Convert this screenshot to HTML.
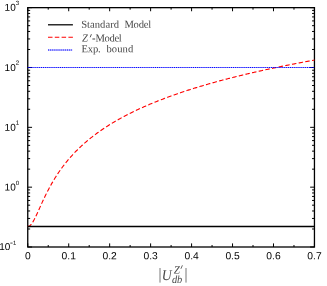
<!DOCTYPE html><html><head><meta charset="utf-8"><title>plot</title><style>html,body{margin:0;padding:0;background:#fff;}svg{display:block;will-change:transform}text{font-family:"Liberation Sans",sans-serif;text-rendering:geometricPrecision;}.s{font-family:"Liberation Serif",serif;}.i{font-style:italic}</style></head><body>
<svg width="327" height="286" viewBox="0 0 327 286">
<rect width="327" height="286" fill="#fff"/>
<rect x="27.75" y="7.65" width="286.70" height="239.35" fill="none" stroke="#000" stroke-width="1.3"/>
<path d="M27.75,247.00h4.3 M314.45,247.00h-4.3 M27.75,228.99h2.4 M314.45,228.99h-2.4 M27.75,218.45h2.4 M314.45,218.45h-2.4 M27.75,210.97h2.4 M314.45,210.97h-2.4 M27.75,205.18h2.4 M314.45,205.18h-2.4 M27.75,200.44h2.4 M314.45,200.44h-2.4 M27.75,196.43h2.4 M314.45,196.43h-2.4 M27.75,192.96h2.4 M314.45,192.96h-2.4 M27.75,189.90h2.4 M314.45,189.90h-2.4 M27.75,187.16h4.3 M314.45,187.16h-4.3 M27.75,169.15h2.4 M314.45,169.15h-2.4 M27.75,158.61h2.4 M314.45,158.61h-2.4 M27.75,151.14h2.4 M314.45,151.14h-2.4 M27.75,145.34h2.4 M314.45,145.34h-2.4 M27.75,140.60h2.4 M314.45,140.60h-2.4 M27.75,136.59h2.4 M314.45,136.59h-2.4 M27.75,133.12h2.4 M314.45,133.12h-2.4 M27.75,130.06h2.4 M314.45,130.06h-2.4 M27.75,127.33h4.3 M314.45,127.33h-4.3 M27.75,109.31h2.4 M314.45,109.31h-2.4 M27.75,98.78h2.4 M314.45,98.78h-2.4 M27.75,91.30h2.4 M314.45,91.30h-2.4 M27.75,85.50h2.4 M314.45,85.50h-2.4 M27.75,80.76h2.4 M314.45,80.76h-2.4 M27.75,76.76h2.4 M314.45,76.76h-2.4 M27.75,73.29h2.4 M314.45,73.29h-2.4 M27.75,70.23h2.4 M314.45,70.23h-2.4 M27.75,67.49h4.3 M314.45,67.49h-4.3 M27.75,49.47h2.4 M314.45,49.47h-2.4 M27.75,38.94h2.4 M314.45,38.94h-2.4 M27.75,31.46h2.4 M314.45,31.46h-2.4 M27.75,25.66h2.4 M314.45,25.66h-2.4 M27.75,20.92h2.4 M314.45,20.92h-2.4 M27.75,16.92h2.4 M314.45,16.92h-2.4 M27.75,13.45h2.4 M314.45,13.45h-2.4 M27.75,10.39h2.4 M314.45,10.39h-2.4 M27.75,7.65h4.3 M314.45,7.65h-4.3 M27.75,247.0v-3.6 M27.75,7.65v3.6 M48.23,247.0v-2.0 M48.23,7.65v2.0 M68.71,247.0v-3.6 M68.71,7.65v3.6 M89.19,247.0v-2.0 M89.19,7.65v2.0 M109.66,247.0v-3.6 M109.66,7.65v3.6 M130.14,247.0v-2.0 M130.14,7.65v2.0 M150.62,247.0v-3.6 M150.62,7.65v3.6 M171.10,247.0v-2.0 M171.10,7.65v2.0 M191.58,247.0v-3.6 M191.58,7.65v3.6 M212.06,247.0v-2.0 M212.06,7.65v2.0 M232.54,247.0v-3.6 M232.54,7.65v3.6 M253.01,247.0v-2.0 M253.01,7.65v2.0 M273.49,247.0v-3.6 M273.49,7.65v3.6 M293.97,247.0v-2.0 M293.97,7.65v2.0 M314.45,247.0v-3.6 M314.45,7.65v3.6" fill="none" stroke="#000" stroke-width="1"/>
<path d="M27.75,226.51 L28.47,226.41 L29.18,226.12 L29.90,225.64 L30.62,224.99 L31.33,224.17 L32.05,223.20 L32.77,222.10 L33.48,220.89 L34.20,219.58 L34.92,218.19 L35.63,216.74 L36.35,215.24 L37.07,213.69 L37.78,212.13 L38.50,210.54 L39.22,208.95 L39.93,207.35 L40.65,205.76 L41.37,204.18 L42.09,202.61 L42.80,201.05 L43.52,199.51 L44.24,198.00 L44.95,196.50 L45.67,195.03 L46.39,193.58 L47.10,192.16 L47.82,190.76 L48.54,189.39 L49.25,188.04 L49.97,186.71 L50.69,185.41 L51.40,184.13 L52.12,182.87 L52.84,181.64 L53.55,180.43 L54.27,179.24 L54.99,178.08 L55.70,176.93 L56.42,175.81 L57.14,174.70 L57.85,173.62 L58.57,172.55 L59.29,171.50 L60.00,170.47 L60.72,169.46 L61.44,168.47 L62.15,167.49 L62.87,166.52 L63.59,165.58 L64.30,164.64 L65.02,163.73 L65.74,162.82 L66.45,161.93 L67.17,161.06 L67.89,160.20 L68.60,159.35 L69.32,158.51 L70.04,157.69 L70.75,156.87 L71.47,156.07 L72.19,155.28 L72.91,154.50 L73.62,153.73 L74.34,152.98 L75.06,152.23 L75.77,151.49 L76.49,150.76 L77.21,150.05 L77.92,149.34 L78.64,148.64 L79.36,147.95 L80.07,147.26 L80.79,146.59 L81.51,145.92 L82.22,145.27 L82.94,144.62 L83.66,143.97 L84.37,143.34 L85.09,142.71 L85.81,142.09 L86.52,141.48 L87.24,140.87 L87.96,140.27 L88.67,139.68 L89.39,139.09 L90.11,138.51 L90.82,137.94 L91.54,137.37 L92.26,136.81 L92.97,136.25 L93.69,135.70 L94.41,135.16 L95.12,134.62 L95.84,134.08 L96.56,133.55 L97.27,133.03 L97.99,132.51 L98.71,132.00 L99.42,131.49 L100.14,130.99 L100.86,130.49 L101.58,129.99 L102.29,129.50 L103.01,129.02 L103.73,128.53 L104.44,128.06 L105.16,127.59 L105.88,127.12 L106.59,126.65 L107.31,126.19 L108.03,125.74 L108.74,125.28 L109.46,124.83 L110.18,124.39 L110.89,123.95 L111.61,123.51 L112.33,123.08 L113.04,122.65 L113.76,122.22 L114.48,121.80 L115.19,121.38 L115.91,120.96 L116.63,120.54 L117.34,120.13 L118.06,119.73 L118.78,119.32 L119.49,118.92 L120.21,118.52 L120.93,118.13 L121.64,117.74 L122.36,117.35 L123.08,116.96 L123.79,116.58 L124.51,116.20 L125.23,115.82 L125.94,115.44 L126.66,115.07 L127.38,114.70 L128.10,114.33 L128.81,113.97 L129.53,113.60 L130.25,113.24 L130.96,112.89 L131.68,112.53 L132.40,112.18 L133.11,111.83 L133.83,111.48 L134.55,111.13 L135.26,110.79 L135.98,110.45 L136.70,110.11 L137.41,109.77 L138.13,109.44 L138.85,109.11 L139.56,108.78 L140.28,108.45 L141.00,108.12 L141.71,107.80 L142.43,107.47 L143.15,107.15 L143.86,106.83 L144.58,106.52 L145.30,106.20 L146.01,105.89 L146.73,105.58 L147.45,105.27 L148.16,104.96 L148.88,104.66 L149.60,104.35 L150.31,104.05 L151.03,103.75 L151.75,103.45 L152.46,103.15 L153.18,102.86 L153.90,102.57 L154.61,102.27 L155.33,101.98 L156.05,101.69 L156.76,101.41 L157.48,101.12 L158.20,100.84 L158.92,100.56 L159.63,100.27 L160.35,99.99 L161.07,99.72 L161.78,99.44 L162.50,99.17 L163.22,98.89 L163.93,98.62 L164.65,98.35 L165.37,98.08 L166.08,97.81 L166.80,97.54 L167.52,97.28 L168.23,97.01 L168.95,96.75 L169.67,96.49 L170.38,96.23 L171.10,95.97 L171.82,95.71 L172.53,95.46 L173.25,95.20 L173.97,94.95 L174.68,94.70 L175.40,94.45 L176.12,94.20 L176.83,93.95 L177.55,93.70 L178.27,93.45 L178.98,93.21 L179.70,92.96 L180.42,92.72 L181.13,92.48 L181.85,92.24 L182.57,92.00 L183.28,91.76 L184.00,91.52 L184.72,91.28 L185.44,91.05 L186.15,90.81 L186.87,90.58 L187.59,90.35 L188.30,90.12 L189.02,89.89 L189.74,89.66 L190.45,89.43 L191.17,89.20 L191.89,88.97 L192.60,88.75 L193.32,88.53 L194.04,88.30 L194.75,88.08 L195.47,87.86 L196.19,87.64 L196.90,87.42 L197.62,87.20 L198.34,86.98 L199.05,86.76 L199.77,86.55 L200.49,86.33 L201.20,86.12 L201.92,85.91 L202.64,85.69 L203.35,85.48 L204.07,85.27 L204.79,85.06 L205.50,84.85 L206.22,84.64 L206.94,84.44 L207.65,84.23 L208.37,84.02 L209.09,83.82 L209.80,83.61 L210.52,83.41 L211.24,83.21 L211.95,83.01 L212.67,82.81 L213.39,82.60 L214.11,82.41 L214.82,82.21 L215.54,82.01 L216.26,81.81 L216.97,81.62 L217.69,81.42 L218.41,81.22 L219.12,81.03 L219.84,80.84 L220.56,80.64 L221.27,80.45 L221.99,80.26 L222.71,80.07 L223.42,79.88 L224.14,79.69 L224.86,79.50 L225.57,79.31 L226.29,79.13 L227.01,78.94 L227.72,78.75 L228.44,78.57 L229.16,78.38 L229.87,78.20 L230.59,78.02 L231.31,77.83 L232.02,77.65 L232.74,77.47 L233.46,77.29 L234.17,77.11 L234.89,76.93 L235.61,76.75 L236.32,76.57 L237.04,76.39 L237.76,76.22 L238.47,76.04 L239.19,75.86 L239.91,75.69 L240.62,75.51 L241.34,75.34 L242.06,75.17 L242.78,74.99 L243.49,74.82 L244.21,74.65 L244.93,74.48 L245.64,74.31 L246.36,74.14 L247.08,73.97 L247.79,73.80 L248.51,73.63 L249.23,73.46 L249.94,73.29 L250.66,73.13 L251.38,72.96 L252.09,72.79 L252.81,72.63 L253.53,72.46 L254.24,72.30 L254.96,72.14 L255.68,71.97 L256.39,71.81 L257.11,71.65 L257.83,71.49 L258.54,71.33 L259.26,71.16 L259.98,71.00 L260.69,70.84 L261.41,70.69 L262.13,70.53 L262.84,70.37 L263.56,70.21 L264.28,70.05 L264.99,69.90 L265.71,69.74 L266.43,69.58 L267.14,69.43 L267.86,69.27 L268.58,69.12 L269.29,68.96 L270.01,68.81 L270.73,68.66 L271.44,68.50 L272.16,68.35 L272.88,68.20 L273.60,68.05 L274.31,67.90 L275.03,67.75 L275.75,67.60 L276.46,67.45 L277.18,67.30 L277.90,67.15 L278.61,67.00 L279.33,66.85 L280.05,66.71 L280.76,66.56 L281.48,66.41 L282.20,66.27 L282.91,66.12 L283.63,65.97 L284.35,65.83 L285.06,65.68 L285.78,65.54 L286.50,65.40 L287.21,65.25 L287.93,65.11 L288.65,64.97 L289.36,64.83 L290.08,64.68 L290.80,64.54 L291.51,64.40 L292.23,64.26 L292.95,64.12 L293.66,63.98 L294.38,63.84 L295.10,63.70 L295.81,63.56 L296.53,63.42 L297.25,63.28 L297.96,63.15 L298.68,63.01 L299.40,62.87 L300.12,62.74 L300.83,62.60 L301.55,62.46 L302.27,62.33 L302.98,62.19 L303.70,62.06 L304.42,61.92 L305.13,61.79 L305.85,61.65 L306.57,61.52 L307.28,61.39 L308.00,61.26 L308.72,61.12 L309.43,60.99 L310.15,60.86 L310.87,60.73 L311.58,60.60 L312.30,60.47 L313.02,60.33 L313.73,60.20 L314.45,60.07" fill="none" stroke="#ff0000" stroke-width="1.1" stroke-dasharray="4.5 2.3"/>
<line x1="27.75" y1="67.49" x2="314.45" y2="67.49" stroke="#0000ff" stroke-opacity="0.3" stroke-width="1.2"/>
<line x1="27.75" y1="67.49" x2="314.45" y2="67.49" stroke="#0000ff" stroke-width="1.2" stroke-dasharray="1 0.9"/>
<line x1="27.75" y1="226.51" x2="314.45" y2="226.51" stroke="#000" stroke-width="1.45"/>
<text transform="matrix(1 0.0005 0 1 27.75 259.3)" font-size="10.3" fill="#000" text-anchor="middle">0</text>
<text transform="matrix(1 0.0005 0 1 68.71 259.3)" font-size="10.3" fill="#000" text-anchor="middle">0.1</text>
<text transform="matrix(1 0.0005 0 1 109.66 259.3)" font-size="10.3" fill="#000" text-anchor="middle">0.2</text>
<text transform="matrix(1 0.0005 0 1 150.62 259.3)" font-size="10.3" fill="#000" text-anchor="middle">0.3</text>
<text transform="matrix(1 0.0005 0 1 191.58 259.3)" font-size="10.3" fill="#000" text-anchor="middle">0.4</text>
<text transform="matrix(1 0.0005 0 1 232.54 259.3)" font-size="10.3" fill="#000" text-anchor="middle">0.5</text>
<text transform="matrix(1 0.0005 0 1 273.49 259.3)" font-size="10.3" fill="#000" text-anchor="middle">0.6</text>
<text transform="matrix(1 0.0005 0 1 314.45 259.3)" font-size="10.3" fill="#000" text-anchor="middle">0.7</text>
<text transform="matrix(1 0.0005 0 1 4.6 10.85)" font-size="10" fill="#000">10</text>
<text transform="matrix(1 0.0005 0 1 15.799999999999999 4.95)" font-size="6.1" fill="#000">3</text>
<text transform="matrix(1 0.0005 0 1 4.6 71.1)" font-size="10" fill="#000">10</text>
<text transform="matrix(1 0.0005 0 1 15.799999999999999 64.75)" font-size="6.1" fill="#000">2</text>
<text transform="matrix(1 0.0005 0 1 4.6 130.8)" font-size="10" fill="#000">10</text>
<text transform="matrix(1 0.0005 0 1 15.799999999999999 124.65)" font-size="6.1" fill="#000">1</text>
<text transform="matrix(1 0.0005 0 1 4.6 190.4)" font-size="10" fill="#000">10</text>
<text transform="matrix(1 0.0005 0 1 15.799999999999999 185.0)" font-size="6.1" fill="#000">0</text>
<text transform="matrix(1 0.0005 0 1 -0.7 250.1)" font-size="10" fill="#000">10</text>
<line x1="10.3" y1="243.1" x2="12.6" y2="243.1" stroke="#000" stroke-width="0.7"/>
<text transform="matrix(1 0.0005 0 1 13.0 244.75)" font-size="5.8" fill="#000">1</text>
<line x1="48" y1="24.8" x2="72.9" y2="24.8" stroke="#000" stroke-width="1.25"/>
<line x1="48" y1="37.3" x2="72.9" y2="37.3" stroke="#ff0000" stroke-width="1.1" stroke-dasharray="4.5 2.3"/>
<line x1="48" y1="50.05" x2="72.4" y2="50.05" stroke="#0000ff" stroke-opacity="0.3" stroke-width="1.3"/>
<line x1="48" y1="50.05" x2="72.4" y2="50.05" stroke="#0000ff" stroke-width="1.1" stroke-dasharray="1 0.9"/>
<text transform="matrix(1 0.0005 0 1 81.2 27.85)" font-size="10.6" fill="#484848" class="s" textLength="37.8" lengthAdjust="spacing">Standard</text>
<text transform="matrix(1 0.0005 0 1 124.4 27.85)" font-size="10.6" fill="#484848" class="s" textLength="26.8" lengthAdjust="spacing">Model</text>
<text transform="matrix(1 0.0005 0 1 82.0 41.5)" font-size="10.6" fill="#484848" class="s i">Z</text>
<line x1="91.4" y1="34.2" x2="90.2" y2="37.3" stroke="#484848" stroke-width="0.9"/>
<text transform="matrix(1 0.0005 0 1 92.0 41.5)" font-size="10.6" fill="#484848" class="s">-</text>
<text transform="matrix(1 0.0005 0 1 95.4 41.5)" font-size="10.6" fill="#484848" class="s" textLength="26.4" lengthAdjust="spacing">Model</text>
<text transform="matrix(1 0.0005 0 1 81.5 52.3)" font-size="10.6" fill="#484848" class="s" textLength="19.2" lengthAdjust="spacing">Exp.</text>
<text transform="matrix(1 0.0005 0 1 106.4 52.3)" font-size="10.6" fill="#484848" class="s" textLength="26.8" lengthAdjust="spacing">bound</text>
<line x1="160" y1="268" x2="160" y2="282.6" stroke="#555" stroke-width="0.8"/>
<line x1="186" y1="268" x2="186" y2="282.6" stroke="#555" stroke-width="0.8"/>
<text transform="matrix(1 0.0005 0 1 161.85 279.8)" font-size="15" fill="#4a4a4a" class="s i" textLength="9.96" lengthAdjust="spacingAndGlyphs">U</text>
<text transform="matrix(1 0.0005 0 1 173.8 273.4)" font-size="11" fill="#4a4a4a" class="s i">Z</text>
<line x1="182.4" y1="265.3" x2="180.9" y2="268.8" stroke="#4a4a4a" stroke-width="0.85"/>
<text transform="matrix(1 0.0005 0 1 171.9 282.8)" font-size="11" fill="#4a4a4a" class="s i" textLength="10.4" lengthAdjust="spacingAndGlyphs">db</text>
</svg></body></html>
